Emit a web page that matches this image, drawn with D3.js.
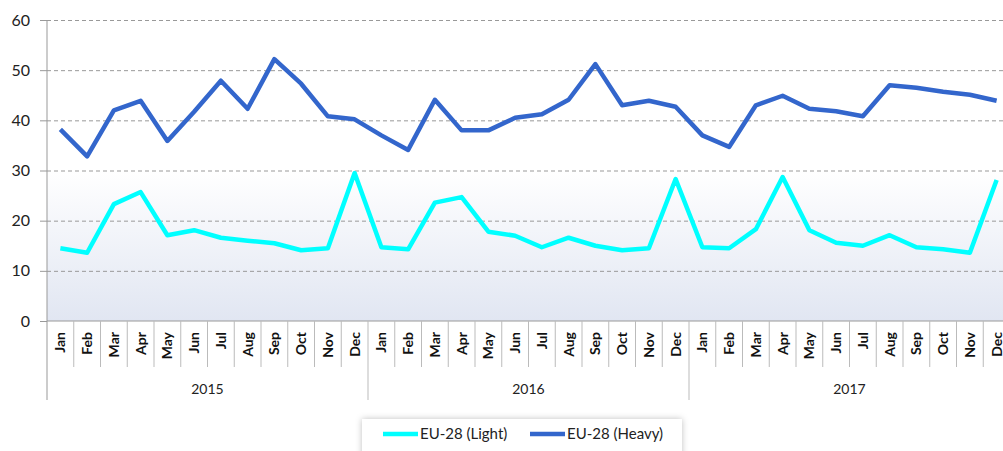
<!DOCTYPE html>
<html>
<head>
<meta charset="utf-8">
<script src="https://cdnjs.cloudflare.com/ajax/libs/d3/7.8.5/d3.min.js"></script>
<style>
  body { margin: 0; background: #fff; }
  svg { display: block; font-family: Lato, "Open Sans", sans-serif; }
</style>
</head>
<body>
<script>
// chart data
const years = ['2015', '2016', '2017']
const months = ['Jan', 'Feb', 'Mar', 'Apr', 'May', 'Jun', 'Jul', 'Aug', 'Sep', 'Oct', 'Nov', 'Dec']
const yTicks = [0, 10, 20, 30, 40, 50, 60]
const lightValues = [
    14.5, 13.6, 23.3, 25.7, 17.1, 18.1, 16.6, 16.0, 15.5, 14.1, 14.5, 29.5,
    14.7, 14.3, 23.6, 24.7, 17.8, 17.0, 14.7, 16.6, 15.0, 14.1, 14.5, 28.3,
    14.7, 14.5, 18.3, 28.7, 18.1, 15.6, 15.0, 17.1, 14.7, 14.3, 13.6, 28.1
]
const heavyValues = [
    38.2, 32.8, 42.0, 43.9, 35.9, 41.7, 47.9, 42.3, 52.2, 47.3, 40.8, 40.2,
    37.0, 34.1, 44.1, 38.0, 38.0, 40.5, 41.2, 44.1, 51.2, 43.0, 43.9, 42.7,
    37.0, 34.7, 43.0, 44.9, 42.3, 41.8, 40.8, 47.0, 46.5, 45.7, 45.1, 43.9
]
const seriesNames = ['EU-28 (Light)', 'EU-28 (Heavy)']
const seriesColors = ['#00ffff', '#3366cc']

// size of svg
const w = 1003
const h = 451
const pLeft = 47
const pRight = 1010   // plot runs past the window edge, like the original
const pTop = 20
const pBottom = 321

// one key per month of each year
const keys = []
years.forEach(y => months.forEach(m => keys.push(y + '-' + m)))

const xScale = d3.scaleBand()
    .domain(keys)
    .range([pLeft, pRight])

const yearScale = d3.scaleBand()
    .domain(years)
    .range([pLeft, pRight])

const yScale = d3.scaleLinear()
    .domain([0, 60])
    .range([pBottom, pTop])

let svg = d3.select('body')
    .append('svg')
    .attr('width', w)
    .attr('height', h)

// soft gradient behind the lower part of the plot
const defs = svg.append('defs')
const grad = defs.append('linearGradient')
    .attr('id', 'bg')
    .attr('x1', 0).attr('y1', 0).attr('x2', 0).attr('y2', 1)
grad.append('stop').attr('offset', '0%').attr('stop-color', '#ffffff')
grad.append('stop').attr('offset', '100%').attr('stop-color', '#e1e6f2')

svg.append('rect')
    .attr('x', pLeft)
    .attr('y', yScale(30))
    .attr('width', pRight - pLeft)
    .attr('height', yScale(0) - yScale(30))
    .style('fill', 'url(#bg)')

// dashed grid lines
svg.append('g')
    .attr('transform', `translate(${pLeft},0)`)
    .call(d3.axisRight(yScale).tickValues(yTicks.filter(t => t > 0)).tickSize(pRight - pLeft).tickFormat(''))
    .call(g => g.select('.domain').remove())
    .call(g => g.selectAll('line')
        .attr('stroke', '#999')
        .attr('stroke-dasharray', '4,3'))

// y axis
svg.append('g')
    .attr('transform', `translate(${pLeft},0)`)
    .call(d3.axisLeft(yScale).tickValues(yTicks).tickSize(7).tickPadding(10))
    .call(g => g.select('.domain').remove())
    .call(g => g.selectAll('line').attr('stroke', '#999'))
    .call(g => g.selectAll('text')
        .attr('fill', '#222')
        .style('font-size', '16px')
        .style('font-family', 'Lato, sans-serif'))

// vertical axis line goes down through the category labels
svg.append('line')
    .attr('x1', pLeft).attr('x2', pLeft)
    .attr('y1', pTop).attr('y2', 400)
    .attr('stroke', '#999')

// x baseline
svg.append('line')
    .attr('x1', pLeft).attr('x2', pRight)
    .attr('y1', pBottom).attr('y2', pBottom)
    .attr('stroke', '#999')

// month dividers
svg.selectAll('.mdiv')
    .data(keys.slice(1))
    .enter()
    .append('line')
    .attr('class', 'mdiv')
    .attr('x1', d => xScale(d)).attr('x2', d => xScale(d))
    .attr('y1', pBottom)
    .attr('y2', (d, i) => (i + 1) % 12 === 0 ? 400 : 367)
    .attr('stroke', '#bbb')

// month labels, rotated
svg.selectAll('.mlab')
    .data(keys)
    .enter()
    .append('text')
    .attr('class', 'mlab')
    .attr('transform', d => `translate(${xScale(d) + xScale.bandwidth() / 2 + 5},332) rotate(-90)`)
    .attr('text-anchor', 'end')
    .style('font-size', '14px')
    .style('font-weight', 'bold')
    .attr('fill', '#111')
    .text(d => d.split('-')[1])

// year labels
svg.selectAll('.ylab')
    .data(years)
    .enter()
    .append('text')
    .attr('class', 'ylab')
    .attr('x', d => yearScale(d) + yearScale.bandwidth() / 2)
    .attr('y', 394)
    .attr('text-anchor', 'middle')
    .style('font-size', '14px')
    .attr('fill', '#222')
    .text(d => d)

// lines
const line = d3.line()
    .x((d, i) => xScale(keys[i]) + xScale.bandwidth() / 2)
    .y(d => yScale(d))

;[lightValues, heavyValues].forEach((vals, s) => {
    svg.append('path')
        .datum(vals)
        .attr('d', line)
        .attr('fill', 'none')
        .attr('stroke', seriesColors[s])
        .attr('stroke-width', 4.5)
        .attr('stroke-linejoin', 'round')
})

// legend box with a soft shadow
const filter = defs.append('filter').attr('id', 'shadow')
    .attr('x', '-10%').attr('y', '-30%').attr('width', '120%').attr('height', '160%')
filter.append('feDropShadow')
    .attr('dx', 0).attr('dy', 0).attr('stdDeviation', 3)
    .attr('flood-color', '#000').attr('flood-opacity', 0.25)

svg.append('rect')
    .attr('x', 362)
    .attr('y', 419)
    .attr('width', 320)
    .attr('height', 40)
    .style('fill', 'white')
    .attr('filter', 'url(#shadow)')

const legendX = [383, 530]
seriesNames.forEach((name, i) => {
    svg.append('line')
        .attr('x1', legendX[i]).attr('x2', legendX[i] + 35)
        .attr('y1', 434).attr('y2', 434)
        .attr('stroke', seriesColors[i])
        .attr('stroke-width', 4.5)
    svg.append('text')
        .attr('x', legendX[i] + 37)
        .attr('y', 439)
        .style('font-size', '15px')
        .attr('fill', '#222')
        .text(name)
})
</script>
</body>
</html>
